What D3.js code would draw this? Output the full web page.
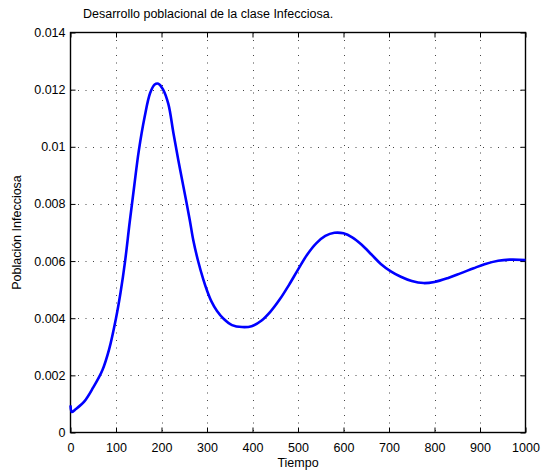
<!DOCTYPE html>
<html>
<head>
<meta charset="utf-8">
<script src="https://cdn.jsdelivr.net/npm/d3@7"></script>
<style>
  html, body { margin: 0; padding: 0; background: #fff; }
  svg { display: block; font-family: "Liberation Sans", Arial, Helvetica, sans-serif; }
</style>
</head>
<body>
<svg id="chart" width="542" height="476"></svg>
<script>
// Infectious-class population over time
const tiempo = [0, 3, 10, 30, 50, 70, 85, 100, 110, 120, 130, 140, 150, 163, 175, 185, 193, 203, 215, 226, 237, 248, 262, 270, 280, 292, 300, 310, 322, 337, 355, 377, 398, 420, 440, 460, 480, 500, 520, 540, 560, 580, 600, 620, 640, 662, 682, 704, 726, 750, 776, 800, 830, 857, 886, 910, 940, 965, 1000];
const infecciosa = [0.00095, 0.00072, 0.00080, 0.00108, 0.00158, 0.00218, 0.00292, 0.00400, 0.00490, 0.00600, 0.00735, 0.00862, 0.00985, 0.01105, 0.01188, 0.01218, 0.01221, 0.01202, 0.01150, 0.01050, 0.00953, 0.00862, 0.00745, 0.00672, 0.00603, 0.00535, 0.00497, 0.00458, 0.00425, 0.00397, 0.00376, 0.00369, 0.00372, 0.00392, 0.00424, 0.00466, 0.00516, 0.00570, 0.00622, 0.00662, 0.00688, 0.00699, 0.00697, 0.00682, 0.00657, 0.00622, 0.00590, 0.00564, 0.00545, 0.00530, 0.00523, 0.00527, 0.00541, 0.00557, 0.00575, 0.00589, 0.00601, 0.00605, 0.00604];

const xTicks = [0, 100, 200, 300, 400, 500, 600, 700, 800, 900, 1000];
const yTicks = [0, 0.002, 0.004, 0.006, 0.008, 0.010, 0.012, 0.014];
const yTickLabels = ["0", "0.002", "0.004", "0.006", "0.008", "0.01", "0.012", "0.014"];

const titulo = "Desarrollo poblacional de la clase Infecciosa.";
const etiquetaX = "Tiempo";
const etiquetaY = "Población Infecciosa";

const svg = d3.select("#chart");
const plotLeft = 70.5, plotRight = 525.5, plotTop = 32.5, plotBottom = 432.5;

const x = d3.scaleLinear().domain([0, 1000]).range([plotLeft, plotRight]);
const y = d3.scaleLinear().domain([0, 0.014]).range([plotBottom, plotTop]);

// dotted grid
const grid = svg.append("g")
  .attr("stroke", "#444")
  .attr("stroke-width", 1)
  .attr("stroke-dasharray", "1,6.5");
grid.selectAll("line.gx").data(xTicks.slice(1, -1)).join("line")
  .attr("x1", d => Math.round(x(d)) + 0.5).attr("x2", d => Math.round(x(d)) + 0.5)
  .attr("y1", plotTop).attr("y2", plotBottom);
grid.selectAll("line.gy").data(yTicks.slice(1, -1)).join("line")
  .attr("y1", d => Math.round(y(d)) + 0.5).attr("y2", d => Math.round(y(d)) + 0.5)
  .attr("x1", plotLeft).attr("x2", plotRight);

// axes with inward ticks on all four sides
const tickLen = 5;
const axisStyle = g => {
  g.select(".domain").remove();
  g.selectAll(".tick line").attr("stroke", "#000").attr("stroke-width", 1);
  g.selectAll(".tick text").attr("fill", "#000").attr("font-size", "12.5px")
    .attr("font-family", "\"Liberation Sans\", Arial, sans-serif");
};
svg.append("g").attr("transform", `translate(0,${plotBottom})`)
  .call(d3.axisBottom(x).tickValues(xTicks).tickSize(-tickLen).tickPadding(10.5).tickFormat(d3.format("d")))
  .call(axisStyle);
svg.append("g").attr("transform", `translate(0,${plotTop})`)
  .call(d3.axisTop(x).tickValues(xTicks).tickSize(-tickLen).tickFormat(""))
  .call(axisStyle);
svg.append("g").attr("transform", `translate(${plotLeft},0)`)
  .call(d3.axisLeft(y).tickValues(yTicks).tickSize(-tickLen).tickPadding(5)
    .tickFormat((d, i) => yTickLabels[i]))
  .call(axisStyle);
svg.append("g").attr("transform", `translate(${plotRight},0)`)
  .call(d3.axisRight(y).tickValues(yTicks).tickSize(-tickLen).tickFormat(""))
  .call(axisStyle);

// frame
svg.append("rect")
  .attr("x", plotLeft).attr("y", plotTop)
  .attr("width", plotRight - plotLeft).attr("height", plotBottom - plotTop)
  .attr("fill", "none").attr("stroke", "#000").attr("stroke-width", 1.4);

// series
const line = d3.line().x((d, i) => x(tiempo[i])).y(d => y(d)).curve(d3.curveCatmullRom.alpha(0.5));
svg.append("path")
  .datum(infecciosa)
  .attr("d", line)
  .attr("fill", "none")
  .attr("stroke", "#0000ff")
  .attr("stroke-width", 2.6)
  .attr("stroke-linejoin", "round");

// labels
svg.append("text")
  .attr("x", 83).attr("y", 18)
  .attr("font-size", "12.5px")
  .text(titulo);
svg.append("text")
  .attr("x", (plotLeft + plotRight) / 2).attr("y", 467)
  .attr("text-anchor", "middle")
  .attr("font-size", "12.5px")
  .text(etiquetaX);
svg.append("text")
  .attr("transform", `translate(21,${(plotTop + plotBottom) / 2}) rotate(-90)`)
  .attr("text-anchor", "middle")
  .attr("font-size", "12.5px")
  .text(etiquetaY);
</script>
</body>
</html>
